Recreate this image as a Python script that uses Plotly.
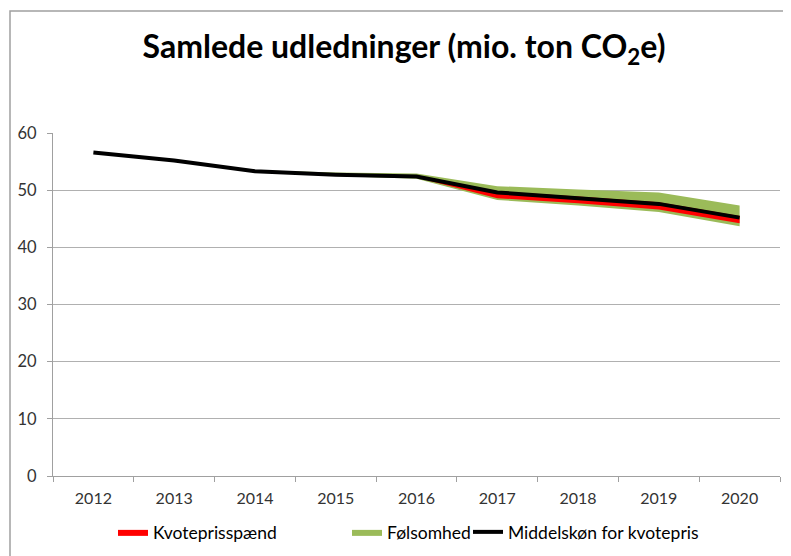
import plotly.graph_objects as go

years = ["2012", "2013", "2014", "2015", "2016", "2017", "2018", "2019", "2020"]
middel = [56.6, 55.2, 53.3, 52.7, 52.4, 49.6, 48.6, 47.6, 45.2]
folsom_hi = [None, None, 53.5, 53.1, 52.9, 50.7, 50.1, 49.6, 47.3]
folsom_lo = [None, None, 53.2, 52.5, 52.0, 48.3, 47.3, 46.2, 43.7]
kvote_hi = [None, None, 53.4, 52.8, 52.5, 49.8, 48.9, 47.9, 45.5]
kvote_lo = [None, None, 53.2, 52.6, 52.2, 48.6, 47.7, 46.6, 44.2]
legend_names = ["Kvoteprisspænd", "Følsomhed", "Middelskøn for kvotepris"]

FONT = "Lato"
RED = "#ff0000"
GREEN = "#9bbb59"

# page body has an 8px margin; the figure is sized/offset to compensate
OFF = 8
W, H = 791 - OFF, 556 - OFF
PL, PR, PT, PB = 53, 780, 133, 476  # plot area in window pixels
PW, PH = PR - PL, PB - PT


def px_x(x):
    return (x - PL) / PW


def px_y(y):
    return (PB - y) / PH


def band(lo, hi, name, color, leg):
    xs = [y for y, v in zip(years, lo) if v is not None]
    los = [v for v in lo if v is not None]
    his = [v for v in hi if v is not None]
    return [
        go.Scatter(x=xs, y=los, mode="lines", line=dict(width=0, color=color),
                   showlegend=False, hoverinfo="skip", legendgroup=name),
        go.Scatter(x=xs, y=his, mode="lines", line=dict(width=0, color=color),
                   fill="tonexty", fillcolor=color, name=name, legendgroup=name,
                   legend=leg),
    ]


fig = go.Figure()
for t in band(folsom_lo, folsom_hi, legend_names[1], GREEN, "legend2"):
    fig.add_trace(t)
for t in band(kvote_lo, kvote_hi, legend_names[0], RED, "legend"):
    fig.add_trace(t)
fig.add_trace(go.Scatter(x=years, y=middel, mode="lines",
                         line=dict(color="black", width=4),
                         name=legend_names[2], legend="legend3"))

leg_common = dict(orientation="h", xanchor="left", yanchor="middle", y=px_y(532),
                  font=dict(family=FONT, size=17.5, color="black"),
                  bgcolor="rgba(0,0,0,0)")

fig.update_layout(
    width=W, height=H,
    margin=dict(l=PL - OFF, r=W - (PR - OFF), t=PT - OFF, b=H - (PB - OFF),
                autoexpand=False),
    paper_bgcolor="white", plot_bgcolor="white",
    font=dict(family=FONT, size=16, color="#333333"),
    title=dict(text="<b>Samlede udledninger (mio. ton CO<sub>2</sub>e)</b>",
               x=(404 - OFF) / W, xanchor="center", y=1 - (47 - OFF) / H,
               yanchor="middle",
               font=dict(family=FONT, size=32, color="black")),
    showlegend=True,
    legend=dict(x=px_x(113), **leg_common),
    legend2=dict(x=px_x(347), **leg_common),
    legend3=dict(x=px_x(468), **leg_common),
    xaxis=dict(type="category", categoryorder="array", categoryarray=years,
               range=[-0.5, 8.5], showgrid=False,
               showline=True, linecolor="#a0a0a0", linewidth=1,
               ticks="outside", ticklen=5, tickcolor="#a0a0a0", tickson="boundaries",
               ticklabelstandoff=8,
               tickfont=dict(size=16, color="#333333")),
    yaxis=dict(range=[0, 60], dtick=10, showgrid=True, gridcolor="#b0b0b0", gridwidth=1,
               showline=True, linecolor="#a0a0a0", linewidth=1,
               ticks="outside", ticklen=5, tickcolor="#a0a0a0",
               ticklabelstandoff=7,
               zeroline=False, tickfont=dict(size=16.5, color="#333333")),
    shapes=[dict(type="rect", xref="paper", yref="paper",
                 x0=px_x(10), x1=px_x(786), y0=px_y(575), y1=px_y(11),
                 line=dict(color="#a0a0a0", width=1.5), layer="below")],
)

fig.write_html("out.html")
